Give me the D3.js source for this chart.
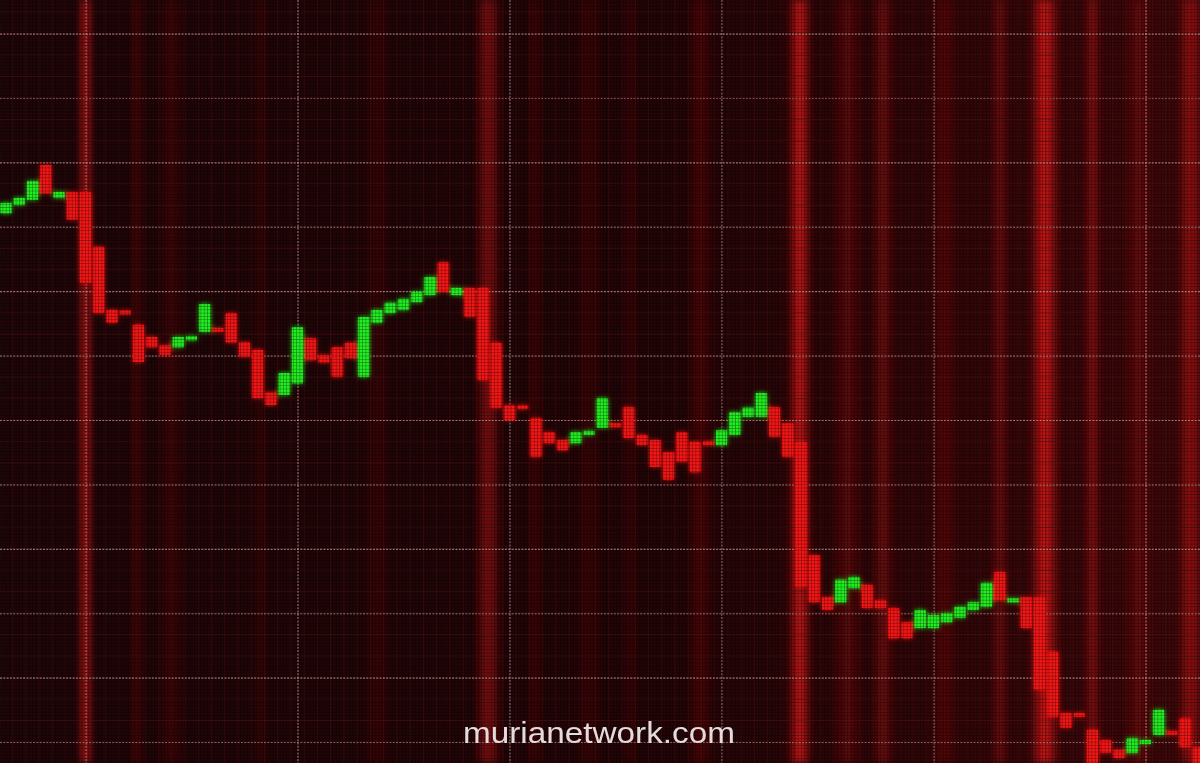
<!DOCTYPE html>
<html><head><meta charset="utf-8">
<script src="https://cdn.jsdelivr.net/npm/d3@7"></script>
<style>html,body{margin:0;padding:0;background:#170405;overflow:hidden}</style>
</head><body><svg id="c" width="1200" height="763"></svg>
<script>
// ---- data (candle opens / closes, arbitrary price units) ----
const opens = [92.1,93.4,94.2,99.6,94.5,95.4,95.4,86.9,77.1,76.8,
  74.8,72.9,71.6,71.3,72.6,73.7,74.1,76.6,72.1,70.9,
  64.3,63.9,65.7,72.7,70.1,71.3,72.0,66.7,75.1,76.6,
  77.1,78.3,79.4,84.5,79.4,80.5,80.5,72.0,62.3,62.1,
  60.3,58.1,56.9,56.4,57.9,58.8,59.3,62.0,57.7,56.9,
  55.0,58.1,56.6,56.5,56.1,57.7,60.5,60.5,62.0,59.5,
  56.6,39.0,32.5,31.7,33.9,34.4,32.0,30.8,28.6,27.7,
  27.7,28.6,29.3,30.5,31.0,36.4,31.9,32.5,32.5,24.0,
  14.5,14.3,11.9,10.3,8.8,8.3,9.9,11.1,11.5,13.7,9.2];
const closes = [93.7,94.5,97.1,95.2,95.4,91.1,81.3,76.6,75.1,76.6,
  69.0,71.3,70.1,72.9,72.8,78.0,73.9,72.0,69.8,63.4,
  62.3,67.3,74.4,69.3,68.9,66.7,69.6,76.0,77.1,78.2,
  78.8,79.9,82.2,79.9,80.5,76.0,66.2,61.9,60.0,61.9,
  54.3,56.4,55.3,58.1,58.1,63.4,59.1,57.2,56.1,52.7,
  50.7,53.5,51.9,56.3,58.4,61.2,61.9,64.2,57.4,54.3,
  34.1,31.7,30.5,35.2,35.6,30.8,30.8,26.1,26.1,30.5,
  29.7,30.0,31.0,31.7,34.7,32.0,32.1,27.7,18.1,13.9,
  12.2,14.1,5.7,8.3,7.5,10.6,10.1,15.0,11.3,9.2,5.7];
const priceTicks = [10,20,30,40,50,60,70,80,90,100,110,120];
const minorPriceTicks = d3.range(0, 126, 10/3);
const timeTicks = [6,22,38,54,70,86];
const watermark = "murianetwork.com";

// ---- decoration: glowing vertical bands (candle-index position, width px, strength) ----
const bandPos = [6.0, 9.9, 12.5, 19.2, 28.0, 36.4, 39.9, 44.0, 47.1, 52.4, 59.9, 63.5, 66.2, 70.8, 75.0, 78.4, 82.0, 85.5, 89.4];
const bandWidth = [16, 10, 30, 8, 30, 28, 12, 30, 12, 26, 26, 34, 24, 30, 18, 32, 16, 30, 26];
const bandAlpha = [0.75, 0.3, 0.15, 0.22, 0.12, 0.5, 0.22, 0.12, 0.18, 0.22, 0.85, 0.25, 0.35, 0.2, 0.35, 0.85, 0.5, 0.25, 0.55];

const W = 1200, H = 763;
const svg = d3.select("#c");
const x = d3.scaleLinear().domain([0, 90]).range([6, 1198.5]);
const y = d3.scaleLinear().domain([10 - 21/6.44, 10 + 742/6.44]).range([H, 0]);
const pitch = x(1) - x(0);
const bodyW = pitch - 2.2;

const defs = svg.append("defs");
const g1 = defs.append("linearGradient").attr("id","band").attr("x1","0").attr("x2","1");
[[0,0],[0.3,0.55],[0.5,1],[0.7,0.55],[1,0]].forEach(([o,a])=>
  g1.append("stop").attr("offset",o).attr("stop-color","#ff1a1a").attr("stop-opacity",a));
const g2 = defs.append("linearGradient").attr("id","bg").attr("x1","0").attr("x2","1");
g2.append("stop").attr("offset",0).attr("stop-color","#1f0608");
g2.append("stop").attr("offset",0.55).attr("stop-color","#220507");
g2.append("stop").attr("offset",1).attr("stop-color","#3e080a");
const pat = defs.append("pattern").attr("id","led").attr("width",3.3).attr("height",3.3)
  .attr("patternUnits","userSpaceOnUse");
pat.append("rect").attr("x",2.5).attr("y",0).attr("width",0.8).attr("height",3.3).attr("fill","#000").attr("opacity",0.55);
pat.append("rect").attr("x",0).attr("y",2.5).attr("width",3.3).attr("height",0.8).attr("fill","#000").attr("opacity",0.55);
const f = defs.append("filter").attr("id","glow").attr("x","-50%").attr("y","-50%").attr("width","200%").attr("height","200%");
f.append("feGaussianBlur").attr("in","SourceGraphic").attr("stdDeviation",2.5).attr("result","b");
const fm = f.append("feMerge");
fm.append("feMergeNode").attr("in","b");
fm.append("feMergeNode").attr("in","SourceGraphic");
const fb = defs.append("filter").attr("id","soft").attr("x","-50%").attr("width","200%");
fb.append("feGaussianBlur").attr("stdDeviation",3.5);

svg.append("rect").attr("width",W).attr("height",H).attr("fill","url(#bg)");

svg.append("g").attr("filter","url(#soft)").selectAll("rect").data(bandPos).join("rect")
  .attr("x",(d,i)=>x(d)-bandWidth[i]/2).attr("y",0)
  .attr("width",(d,i)=>bandWidth[i]).attr("height",H)
  .attr("fill","url(#band)").attr("opacity",(d,i)=>bandAlpha[i]);

svg.append("g").selectAll("line").data(d3.range(-0.5, 91, 1)).join("line")
  .attr("x1",d=>x(d)).attr("x2",d=>x(d)).attr("y1",0).attr("y2",H)
  .attr("stroke","#5a1216").attr("stroke-width",1).attr("opacity",0.45);
svg.append("g").selectAll("line").data(minorPriceTicks).join("line")
  .attr("y1",d=>y(d)).attr("y2",d=>y(d)).attr("x1",0).attr("x2",W)
  .attr("stroke","#5a1a1d").attr("stroke-width",1).attr("opacity",0.45);

const gy = svg.append("g")
  .call(d3.axisRight(y).tickValues(priceTicks).tickSize(W).tickFormat(""));
const gx = svg.append("g")
  .call(d3.axisBottom(x).tickValues(timeTicks).tickSize(H).tickFormat(""));
[gy,gx].forEach(g=>{
  g.select(".domain").remove();
  g.selectAll(".tick line").attr("stroke","#dcb0b0").attr("stroke-opacity",0.62)
    .attr("stroke-width",1.2).attr("stroke-dasharray","2,1.3");
});

const candles = opens.map((o,i)=>({i, o, c: closes[i]}));
svg.append("g").attr("filter","url(#glow)").selectAll("rect").data(candles).join("rect")
  .attr("x", d=>x(d.i)-bodyW/2)
  .attr("width", bodyW)
  .attr("y", d=>{
    const t = y(Math.max(d.o,d.c)), b = y(Math.min(d.o,d.c));
    return (b-t) < 4 ? (t+b)/2-2 : t; })
  .attr("height", d=>Math.max(4, y(Math.min(d.o,d.c)) - y(Math.max(d.o,d.c))))
  .attr("fill", d=> d.c >= d.o ? "#22ee22" : "#f51212");

svg.append("rect").attr("width",W).attr("height",H).attr("fill","url(#led)").attr("opacity",0.6);

svg.append("text").attr("x",599).attr("y",743).attr("text-anchor","middle")
  .attr("font-family","'Liberation Sans', Arial, sans-serif").attr("font-size",29.5)
  .attr("textLength",272).attr("lengthAdjust","spacingAndGlyphs")
  .attr("fill","#e4dcdc").text(watermark);
</script></body></html>
